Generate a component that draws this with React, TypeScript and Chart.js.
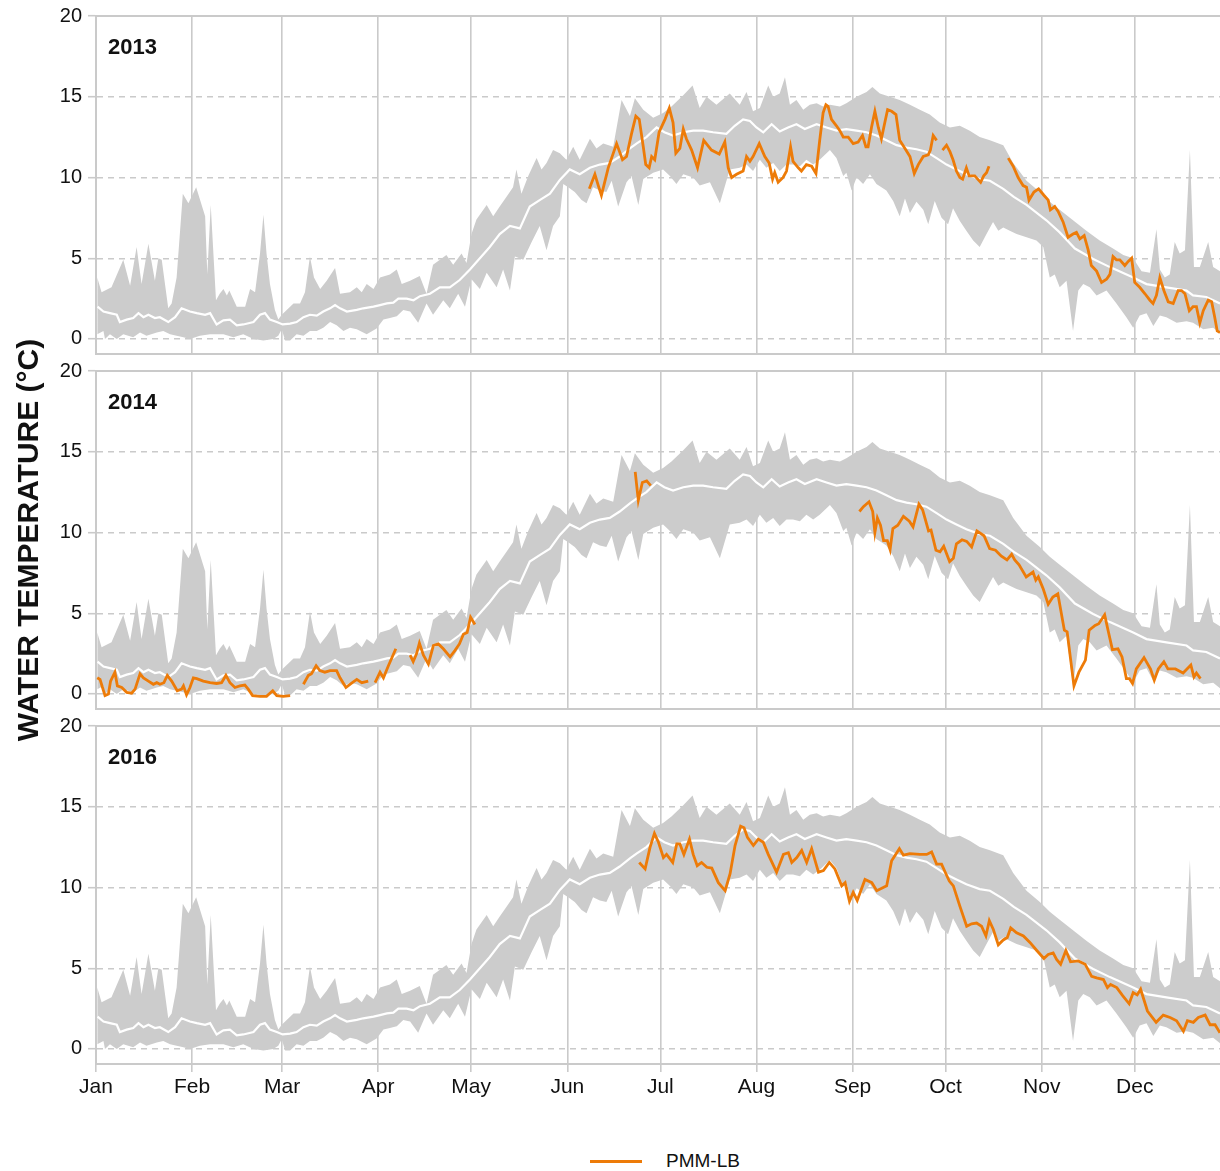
import React, { useEffect, useRef } from "react";
import { Chart, registerables } from "chart.js";

Chart.register(...registerables);

const FONT = "'Liberation Sans', Arial, Helvetica, sans-serif";
Chart.defaults.font.family = FONT;

// ---- axis data ----
const MONTH_DAYS = [0, 31, 60, 91, 121, 152, 182, 213, 244, 274, 305, 335];
const MONTH_LABELS = ["Jan", "Feb", "Mar", "Apr", "May", "Jun", "Jul", "Aug", "Sep", "Oct", "Nov", "Dec"];
const Y_TICKS = [0, 5, 10, 15, 20];
const Y_MIN = -0.93;
const Y_MAX = 20;
const X_MIN = 0;
const X_MAX = 362.5;
const YEARS = ["2013", "2014", "2016"];
const Y_TITLE = "WATER TEMPERATURE (°C)";
const LEGEND_LABEL = "PMM-LB";

// ---- climatology band: [day of year, °C] ----
const BAND_MAX: [number, number][] = [
  [0.4, 3.8], [1.8, 2.9], [5, 3.2], [8.8, 4.9], [11, 3.3], [13.1, 5.7], [14.7, 3.4], [16.9, 5.9], [19, 3.6],
  [20.1, 5.0], [21.2, 4.9], [23.3, 1.9], [24.4, 2.2], [26, 3.8], [28, 9.0], [29.8, 8.4], [32.3, 9.4], [35.2, 7.6],
  [35.9, 4.0], [37, 8.3], [38.7, 2.4], [39.9, 2.8], [41.1, 3.1], [42.2, 2.7], [43, 3.0], [45.4, 2.0], [48.1, 2.0],
  [49.7, 3.1], [51.3, 2.9], [52.9, 5.3], [54, 7.7], [55, 5.3], [56.1, 3.4], [57.7, 1.8], [58.8, 1.2], [59.9, 1.5],
  [61.5, 1.8], [63.7, 2.2], [65.8, 2.2], [67.4, 2.9], [69, 5.1], [70.3, 3.8], [72.3, 3.1], [74.4, 3.6], [77.1, 4.4],
  [78.7, 2.8], [81.9, 2.9], [84.1, 3.2], [85.7, 2.9], [87.3, 3.4], [89.5, 3.1], [91.6, 3.8], [94.8, 4.0], [97, 4.3],
  [98.6, 3.4], [101.3, 3.6], [104.4, 3.9], [106.6, 2.8], [108.7, 4.6], [113, 5.2], [115.2, 4.6], [117.9, 5.3],
  [119.5, 4.7], [121.1, 6.5], [122.7, 7.4], [126, 8.3], [128.1, 7.6], [130.2, 8.2], [132.4, 8.8], [134.5, 9.4],
  [135.6, 10.5], [137.2, 9.0], [139.4, 10.1], [142.1, 11.2], [143.7, 10.5], [145.3, 10.9], [147.4, 11.7],
  [149.6, 11.5], [151.7, 11.1], [153.9, 11.9], [156, 11.1], [159.3, 12.4], [161.4, 11.8], [163.6, 12.1],
  [166.8, 11.9], [169.5, 14.8], [172.2, 13.8], [173.8, 14.9], [176.5, 14.2], [179.7, 13.7], [182.9, 14.0],
  [185.6, 14.4], [189.4, 15.1], [192.4, 15.7], [194.7, 14.3], [196.9, 15.0], [200.1, 14.5], [204.4, 15.2],
  [207.6, 14.5], [209.8, 15.3], [211.9, 14.1], [214.1, 14.3], [216.8, 15.7], [218.4, 15.0], [220.5, 15.2],
  [222.2, 16.2], [223.8, 14.5], [225.9, 14.8], [228.1, 14.2], [230.2, 14.5], [232.4, 14.6], [234.5, 14.4],
  [236.7, 14.5], [239.9, 14.4], [242, 14.6], [245.3, 15.0], [248.5, 15.3], [250.4, 15.6], [252.8, 15.2],
  [256, 15.0], [259.2, 14.8], [262.5, 14.5], [265.7, 14.2], [268.9, 13.9], [272.1, 13.4], [275.4, 13.1],
  [278.6, 13.2], [281.8, 12.9], [285, 12.5], [288.3, 12.3], [292.6, 12.0], [295.8, 10.9], [300.1, 9.8],
  [304.4, 9.1], [307.6, 8.5], [310.8, 8.0], [315.1, 7.35], [319.4, 6.7], [323.7, 6.1], [328, 5.6], [331.3, 5.2],
  [334.5, 5.0], [337.2, 4.2], [339.9, 4.1], [342, 6.8], [343.1, 4.3], [344.7, 3.8], [346.3, 4.0], [347.9, 6.0],
  [349.5, 5.3], [351.2, 5.5], [352.8, 11.7], [354.1, 4.45], [356, 4.45], [358.7, 6.0], [360.3, 4.45], [362.5, 4.2],
];

const BAND_MIN: [number, number][] = [
  [0.4, 0.3], [2.4, 0.5], [2.9, 0.0], [4.5, 0.3], [6.7, 0.0], [8.8, 0.3], [12, 0.1], [14.2, 0.4], [16.3, 0.2],
  [19.6, 0.4], [21.7, 0.5], [23.9, 0.3], [26, 0.2], [28.2, 0.1], [30.3, 0.0], [33.5, 0.2], [36.8, 0.3], [41.1, 0.3],
  [44.3, 0.1], [47.5, 0.3], [50.8, 0.0], [54, -0.1], [57.2, 0.0], [58.8, 0.2], [59.9, 0.6], [61, -0.1], [62.6, -0.1],
  [64.7, 0.3], [66.9, 0.2], [69, 0.5], [71.2, 0.5], [73.3, 0.7], [75.5, 1.05], [77.6, 0.85], [79.8, 0.5], [81.9, 0.7],
  [84.1, 0.6], [87.3, 0.3], [90.5, 0.65], [92.7, 1.2], [94.8, 1.3], [97, 1.4], [99.1, 1.8], [101.3, 1.7],
  [103.9, 1.0], [106.6, 2.2], [108.7, 1.5], [112, 2.4], [114.1, 1.9], [116.8, 2.8], [119, 2.0], [121.1, 3.7],
  [123.8, 3.1], [126, 4.1], [129.2, 3.2], [131.3, 4.3], [133.5, 3.0], [135.1, 5.1], [137.8, 4.9], [140.5, 6.0],
  [143.1, 7.0], [145.3, 5.5], [147.4, 7.0], [149.6, 7.6], [150.7, 9.6], [152.3, 9.4], [154.4, 9.1], [156.6, 8.6],
  [158.2, 8.4], [160.3, 9.4], [162.5, 9.2], [164.6, 9.1], [166.3, 9.8], [168.4, 8.2], [171.1, 9.7], [172.7, 10.1],
  [174.9, 8.3], [176.5, 9.9], [179.7, 10.3], [182.9, 10.5], [185.1, 10.1], [187.2, 9.6], [189.4, 10.2],
  [192.6, 10.0], [194.7, 9.5], [198, 9.7], [201.2, 8.4], [204.4, 10.5], [207.6, 10.6], [209.8, 10.8],
  [211.9, 10.4], [214.1, 11.1], [216.2, 10.6], [218.4, 10.9], [220.5, 10.4], [222.7, 10.8], [224.8, 10.8],
  [227, 10.7], [229.1, 11.1], [231.3, 10.8], [233.4, 11.1], [236.7, 11.7], [238.8, 11.2], [241, 10.1], [242, 10.3],
  [243.7, 9.2], [245.3, 10.0], [247.4, 9.6], [249.6, 10.2], [251.7, 9.6], [254.9, 9.2], [257.1, 8.55], [259.2, 7.6],
  [260.9, 8.7], [262.5, 7.8], [264.6, 8.5], [266.8, 8.0], [268.4, 7.1], [270.5, 8.55], [272.7, 7.5], [274.8, 7.1],
  [276.4, 8.1], [278.6, 7.3], [280.7, 6.7], [282.9, 6.1], [285, 5.7], [287.2, 6.5], [289.3, 7.25], [291, 6.7],
  [292.6, 6.9], [294.7, 6.7], [296.9, 6.5], [300.1, 6.3], [303.3, 6.1], [305.5, 5.7], [307.6, 3.8], [309.2, 4.0],
  [310.8, 3.2], [313, 3.6], [315.1, 0.5], [316.8, 3.0], [318.4, 3.4], [320.5, 3.2], [322.7, 2.7], [325.9, 3.0],
  [329.1, 2.2], [332.3, 1.35], [334.5, 0.7], [336.6, 1.45], [338.8, 1.6], [341, 0.8], [343.1, 1.45], [345.2, 1.35],
  [348.5, 1.0], [351.7, 1.1], [353.8, 1.0], [357.1, 0.6], [360.3, 0.7], [362.5, 0.35],
];

const MEDIAN: [number, number][] = [
  [0.5, 2.0], [2.4, 1.7], [4.5, 1.6], [6.7, 1.5], [7.7, 1.05], [9.9, 1.2], [12, 1.3], [13.7, 1.6], [15.3, 1.35],
  [16.9, 1.5], [19, 1.3], [20.6, 1.35], [23.3, 1.05], [25.5, 1.35], [27.6, 1.9], [30.3, 1.7], [32.5, 1.6],
  [35.2, 1.5], [36.8, 1.6], [38.9, 0.9], [41.1, 1.15], [43.2, 1.2], [45.4, 0.85], [47.5, 0.9], [50.8, 1.05],
  [52.9, 1.5], [54.5, 1.6], [56.1, 1.2], [58.3, 1.05], [60.2, 0.9], [62.6, 0.95], [64.7, 1.05], [66.9, 1.35],
  [69, 1.5], [71.2, 1.45], [73.3, 1.7], [75.5, 1.9], [77.1, 2.1], [78.7, 1.9], [80.9, 1.7], [84.1, 1.8], [86.2, 1.9],
  [89.5, 2.0], [91.6, 2.1], [93.8, 2.2], [95.9, 2.25], [97.5, 2.5], [100.2, 2.5], [102.4, 2.4], [104.5, 2.65],
  [107.7, 2.8], [110.9, 3.2], [114.1, 3.2], [117.3, 3.65], [120.6, 4.3], [123.8, 5.0], [127, 5.7], [130.2, 6.5],
  [133.5, 7.0], [136.7, 6.85], [139.9, 8.2], [143.1, 8.6], [146.4, 9.0], [149.6, 9.85], [152.8, 10.5], [156, 10.2],
  [159.3, 10.6], [162.5, 10.8], [165.7, 10.9], [168.9, 11.3], [172.2, 11.8], [174.3, 12.1], [177.5, 12.5],
  [180.8, 13.1], [183.3, 12.8], [186.1, 12.6], [189.4, 12.8], [192.6, 12.9], [195.8, 12.9], [199, 12.8],
  [203.3, 12.7], [206, 13.2], [208.7, 13.6], [210.9, 13.5], [213, 13.1], [215.2, 12.8], [217.9, 13.3],
  [220.5, 12.85], [223.2, 13.1], [225.9, 13.3], [228.6, 13.0], [232.4, 13.3], [235.6, 13.1], [238.8, 12.9],
  [242, 13.0], [245.3, 12.9], [248.5, 12.8], [251.7, 12.6], [254.9, 12.3], [258.2, 12.0], [261.4, 11.85],
  [264.6, 11.75], [267.8, 11.6], [271.1, 11.2], [274.3, 10.8], [277.5, 10.5], [280.7, 10.2], [285, 9.9],
  [288.3, 9.8], [292.6, 9.3], [296, 8.8], [300.1, 8.3], [306.5, 7.35], [310.8, 6.6], [315.7, 5.6], [321.6, 4.95],
  [327, 4.45], [334.5, 3.8], [338.8, 3.4], [345.2, 3.2], [351.7, 3.0], [353.8, 2.7], [358.1, 2.6], [362.5, 2.2],
];

// ---- PMM-LB observations: [day of year, °C]; null = gap ----
const PMM_2013: [number, number | null][] = [
  [159.1, 9.3], [160.9, 10.2], [162, 9.5], [163, 8.9], [165.2, 10.6], [167.9, 12.1], [169.8, 11.1], [171.1, 11.3],
  [172.7, 12.7], [174.1, 13.8], [175.2, 13.6], [176.5, 11.9], [177.3, 10.8], [178.4, 10.6], [179.2, 11.3],
  [180.2, 11.1], [181.6, 12.8], [183.5, 13.6], [184.9, 14.3], [186.1, 13.4], [187, 11.5], [188.3, 11.8],
  [189.4, 13.0], [190.4, 12.4], [192.1, 11.7], [194, 10.6], [196, 12.3], [198.5, 11.7], [201, 11.45], [202.8, 12.2],
  [203.9, 10.6], [205, 10.0], [206.6, 10.2], [208.7, 10.4], [209.8, 11.3], [210.9, 11.0], [211.9, 11.3],
  [213.9, 12.1], [215.7, 11.3], [217.1, 10.9], [218.2, 9.9], [218.9, 10.3], [220, 9.7], [221.6, 10.0],
  [222.7, 10.4], [224, 11.9], [224.8, 11.0], [226.5, 10.6], [227.5, 10.4], [229.1, 10.8], [230.8, 10.7],
  [232.2, 10.25], [233.4, 12.3], [234.5, 14.0], [235.4, 14.5], [236.1, 14.4], [237.2, 13.6], [238.8, 13.2],
  [239.9, 12.9], [241, 12.5], [242.6, 12.5], [244.2, 12.1], [245.8, 12.2], [247.2, 12.6], [248.3, 11.9],
  [249, 11.9], [250.1, 13.1], [251.2, 14.1], [252.3, 13.1], [253.3, 12.4], [254.4, 13.4], [255.3, 14.2],
  [256.6, 14.1], [258, 13.9], [259.2, 12.3], [260.9, 11.8], [262.5, 11.3], [263.9, 10.25], [265.2, 10.8],
  [266.8, 11.3], [268.4, 11.4], [269.1, 11.7], [270, 12.6], [271.1, 12.3], [272, null], [273, 11.7], [274.3, 12.0],
  [275.4, 11.6], [276.4, 11.1], [277.5, 10.4], [278.6, 10.0], [279.5, 9.9], [280.7, 10.6], [281.6, 10.1],
  [283.4, 10.1], [285.3, 9.7], [286.3, 10.1], [287.2, 10.3], [288, 10.7], [291, null], [294.2, 11.2],
  [295.8, 10.7], [297.4, 10.0], [299, 9.5], [300.1, 9.4], [300.9, 8.6], [302.5, 9.1], [304, 9.3], [305.7, 8.9],
  [307.1, 8.6], [307.8, 8.0], [309.2, 8.2], [310.3, 7.9], [311.9, 7.25], [313.5, 6.3], [315.1, 6.5], [316.2, 6.6],
  [317.3, 6.2], [318.7, 6.4], [320, 5.5], [321, 4.55], [322.7, 4.2], [324.3, 3.5], [325.9, 3.7], [327, 4.0],
  [328, 5.1], [329.1, 4.9], [330.2, 4.9], [331.8, 4.55], [332.9, 4.8], [334, 5.0], [335, 3.5], [336.6, 3.2],
  [338.3, 2.8], [339.9, 2.4], [340.9, 2.2], [342, 2.7], [343.1, 3.8], [344.4, 3.0], [345.8, 2.3], [347.4, 2.2],
  [349, 3.0], [350.1, 3.0], [351.2, 2.8], [352.6, 1.75], [353.8, 2.0], [354.9, 2.0], [356, 1.0], [357.1, 1.75],
  [358.7, 2.4], [359.8, 2.3], [360.8, 1.35], [361.6, 0.5], [362.5, 0.4],
];

const PMM_2014: [number, number | null][] = [
  [0.4, 1.0], [1.3, 0.9], [2.1, 0.4], [2.9, -0.1], [4, 0.0], [4.7, 0.8], [6.1, 1.35], [6.9, 0.5], [8.3, 0.4],
  [9.9, 0.1], [11.5, 0.05], [12.6, 0.3], [14.2, 1.25], [15.3, 1.0], [16.9, 0.8], [18.5, 0.6], [19.6, 0.7],
  [20.6, 0.6], [21.9, 0.7], [23, 1.15], [24.4, 0.8], [26.2, 0.2], [27.6, 0.3], [28.2, 0.5], [29.2, -0.05],
  [30.3, 0.4], [31.4, 1.0], [32.5, 0.95], [34.6, 0.8], [36.8, 0.7], [38.9, 0.65], [40.5, 0.7], [41.9, 1.15],
  [43.2, 0.7], [44.8, 0.4], [46.4, 0.5], [48, 0.55], [49.1, 0.3], [50.5, -0.1], [52.9, -0.15], [55, -0.15],
  [57, 0.2], [58.3, -0.1], [60.4, -0.15], [62.6, -0.1], [64.5, null], [66.9, 0.6], [68.5, 1.15], [69.5, 1.25],
  [71, 1.75], [72.2, 1.45], [73.8, 1.35], [75.5, 1.45], [77.6, 1.45], [78.7, 1.0], [80.6, 0.4], [81.9, 0.6],
  [84.1, 0.9], [85.7, 0.7], [87.8, 0.8], [88.9, null], [90, 0.7], [91.6, 1.35], [92.7, 1.0], [94.3, 1.75],
  [96.7, 2.8], [99, null], [101.3, 2.4], [102.3, 2.0], [103.4, 2.5], [104.3, 3.15], [105.6, 2.4], [107.2, 1.85],
  [108.8, 3.0], [110.4, 3.1], [112, 2.8], [114.2, 2.3], [115.8, 2.7], [117.2, 3.1], [118.5, 3.7], [119.7, 3.8],
  [120.8, 4.75], [122.2, 4.3], [150, null], [173.9, 13.75], [174.9, 12.0], [176.2, 13.1], [177.6, 13.2],
  [178.9, 12.9], [200, null], [246.2, 11.3], [247.5, 11.6], [249.3, 11.9], [250.5, 11.3], [251.2, 10.0],
  [252, 10.9], [253, 10.45], [254, 9.5], [255.2, 9.5], [256.1, 8.95], [257, 10.25], [258.6, 10.45], [260.4, 11.0],
  [262.3, 10.7], [263.5, 10.35], [265.4, 11.75], [266.6, 11.4], [268.5, 10.1], [269.3, 10.15], [270.9, 8.9],
  [272.2, 8.8], [273.4, 9.15], [275.3, 8.2], [276.5, 8.4], [277.5, 9.3], [279.3, 9.55], [280.8, 9.45],
  [282.4, 9.1], [284.1, 10.1], [286.4, 9.8], [288.2, 9.0], [290.1, 8.9], [291.9, 8.55], [293.8, 8.3],
  [295.3, 8.65], [296.3, 8.3], [297.7, 8.0], [300, 7.25], [302.2, 7.55], [303.1, 7.05], [303.9, 7.25],
  [305.5, 6.5], [307.1, 5.55], [308.6, 6.0], [310.2, 6.2], [312.3, 3.95], [313.2, 3.85], [315.4, 0.5],
  [317, 1.35], [319.1, 2.1], [320.3, 3.95], [322.2, 4.25], [323.4, 4.35], [325.3, 4.9], [326.5, 3.85],
  [327.8, 2.75], [329.6, 2.8], [330.9, 2.3], [332.3, 0.95], [333.3, 0.95], [334.3, 0.65], [335.5, 1.55],
  [338, 2.25], [340.1, 1.55], [341.3, 0.85], [342.6, 1.55], [344.4, 2.0], [345.7, 1.55], [348.1, 1.55],
  [350.6, 1.3], [353.1, 1.8], [354.1, 1.05], [354.9, 1.3], [356.2, 0.95],
];

const PMM_2016: [number, number | null][] = [
  [175.2, 11.55], [177.1, 11.15], [178.7, 12.5], [180.1, 13.35], [181.4, 12.8], [183, 11.85], [184, 12.05],
  [186, 11.55], [187.3, 12.7], [188.3, 12.7], [189.6, 12.05], [191.4, 13.0], [192.6, 12.05], [193.9, 11.35],
  [195.3, 11.55], [197, 11.25], [198.6, 11.2], [200.7, 10.3], [202.9, 9.8], [204.5, 10.85], [206.1, 12.6],
  [207.9, 13.8], [209, 13.7], [210.1, 13.1], [212, 12.6], [213.6, 13.0], [215.2, 12.8], [216.8, 12.05],
  [219.5, 10.95], [221.7, 12.05], [223.3, 12.15], [224.4, 11.55], [226, 11.85], [227.6, 12.3], [229.2, 11.55],
  [230.8, 12.4], [233, 10.95], [234.6, 11.05], [236.5, 11.55], [238.3, 11.15], [240.5, 10.1], [241.6, 10.3],
  [243, 9.15], [244.2, 9.7], [245.5, 9.2], [248, 10.5], [250.2, 10.3], [251.8, 9.8], [253.9, 10.0], [255, 10.1],
  [256.6, 11.65], [259.1, 12.4], [260.4, 12.0], [262.5, 12.1], [265.7, 12.05], [267.9, 12.05], [269.5, 12.2],
  [271.1, 11.45], [272.7, 11.45], [274.1, 10.85], [275.2, 10.4], [276.5, 10.1], [278.6, 8.85], [280.8, 7.6],
  [282.4, 7.75], [284, 7.8], [285.6, 7.6], [287, 7.0], [288.1, 7.95], [289.4, 7.4], [291, 6.45], [292.6, 6.75],
  [293.9, 6.9], [295, 7.5], [296.9, 7.2], [299.1, 7.0], [301.2, 6.6], [303.4, 6.1], [305.7, 5.6], [307.1, 5.85],
  [308.7, 5.95], [309.8, 5.55], [311.1, 5.25], [312.8, 6.1], [314.3, 5.4], [316.8, 5.45], [319, 5.25],
  [321.1, 4.5], [322.7, 4.4], [324.9, 4.3], [326.2, 3.8], [327.2, 4.0], [329.2, 3.8], [331.1, 3.3], [333.2, 2.8],
  [334.5, 3.5], [335.8, 3.35], [336.9, 3.7], [339.1, 2.35], [341.9, 1.65], [344.2, 2.1], [346.4, 1.95],
  [348.5, 1.75], [350.7, 1.1], [352, 1.75], [353.9, 1.65], [355.5, 1.95], [357.7, 2.1], [359.3, 1.5],
  [360.9, 1.5], [362.5, 1.0],
];

const SERIES = [PMM_2013, PMM_2014, PMM_2016];

// ---- styling ----
const GRID = "#cacaca";
const BAND_COLOR = "#cccccc";
const ORANGE = "#ed7b08";
const TEXT = "#111111";
const W = 1220;
const PANEL_PITCH = 355;
const AREA_TOP = 16;
const AREA_BOTTOM = 354;

const toPts = (arr: [number, number | null][]) => arr.map(([x, y]) => ({ x, y }));

const panelLabelPlugin = (text: string) => ({
  id: "panelLabel",
  afterDraw(chart: any) {
    const { ctx, chartArea } = chart;
    ctx.save();
    ctx.font = `bold 22px ${FONT}`;
    ctx.fillStyle = TEXT;
    ctx.textBaseline = "middle";
    ctx.textAlign = "left";
    ctx.fillText(text, chartArea.left + 12, chartArea.top + 32);
    ctx.restore();
  },
});

function Panel({ index, height }: { index: number; height: number }) {
  const ref = useRef<HTMLCanvasElement | null>(null);
  const showX = index === 2;

  useEffect(() => {
    if (!ref.current) return;
    const chart = new Chart(ref.current, {
      type: "line",
      data: {
        datasets: [
          {
            label: LEGEND_LABEL,
            data: toPts(SERIES[index]),
            borderColor: ORANGE,
            borderWidth: 2.8,
            pointRadius: 0,
            spanGaps: false,
            fill: false,
            tension: 0,
          },
          {
            label: "median",
            data: toPts(MEDIAN),
            borderColor: "#ffffff",
            borderWidth: 2.2,
            pointRadius: 0,
            fill: false,
            tension: 0,
          },
          {
            label: "min",
            data: toPts(BAND_MIN),
            borderColor: "rgba(0,0,0,0)",
            borderWidth: 0,
            backgroundColor: BAND_COLOR,
            pointRadius: 0,
            fill: "+1",
            tension: 0,
          },
          {
            label: "max",
            data: toPts(BAND_MAX),
            borderColor: "rgba(0,0,0,0)",
            borderWidth: 0,
            pointRadius: 0,
            fill: false,
            tension: 0,
          },
        ],
      },
      options: {
        responsive: false,
        animation: false,
        events: [],
        layout: { padding: { top: AREA_TOP, left: 0, right: 0, bottom: 0 } },
        plugins: {
          legend: { display: false },
          tooltip: { enabled: false },
        },
        scales: {
          x: {
            type: "linear",
            min: X_MIN,
            max: X_MAX,
            afterBuildTicks: (s: any) => {
              s.ticks = MONTH_DAYS.map((v) => ({ value: v }));
            },
            afterFit: (s: any) => {
              s.height = showX ? height - AREA_BOTTOM : 1;
              s.paddingLeft = 0;
              s.paddingRight = 0;
            },
            ticks: {
              display: showX,
              autoSkip: false,
              maxRotation: 0,
              padding: 3,
              color: TEXT,
              font: { size: 21 },
              callback: (v: any) => {
                const i = MONTH_DAYS.indexOf(Number(v));
                return i >= 0 ? MONTH_LABELS[i] : "";
              },
            },
            grid: {
              color: GRID,
              lineWidth: 1.6,
              drawTicks: showX,
              tickLength: 8,
              tickColor: GRID,
              tickWidth: 1.6,
            },
            border: { display: true, color: GRID, width: 2 },
          },
          xTop: {
            type: "linear",
            axis: "x",
            position: "top",
            min: X_MIN,
            max: X_MAX,
            ticks: { display: false },
            grid: { display: false, drawTicks: false },
            border: { display: true, color: GRID, width: 2 },
            afterFit: (s: any) => {
              s.height = 0;
              s.paddingLeft = 0;
              s.paddingRight = 0;
            },
          },
          y: {
            type: "linear",
            min: Y_MIN,
            max: Y_MAX,
            afterBuildTicks: (s: any) => {
              s.ticks = Y_TICKS.map((v) => ({ value: v }));
            },
            afterFit: (s: any) => {
              s.width = 96;
              s.paddingTop = 0;
              s.paddingBottom = 0;
            },
            ticks: {
              padding: 6,
              color: TEXT,
              font: { size: 20 },
            },
            grid: {
              color: (ctx: any) => (ctx.tick && ctx.tick.value === Y_MAX ? "rgba(0,0,0,0)" : GRID),
              lineWidth: 1.4,
              tickLength: 8,
              tickColor: GRID,
              tickWidth: 1.6,
              tickBorderDash: [],
            },
            border: { display: true, color: GRID, width: 2, dash: [6, 5] },
          },
        },
      } as any,
      plugins: [panelLabelPlugin(YEARS[index])],
    });
    return () => chart.destroy();
  }, [index, height, showX]);

  return (
    <canvas
      ref={ref}
      width={W}
      height={height}
      style={{ position: "absolute", left: 0, top: index * PANEL_PITCH, display: "block" }}
    />
  );
}

export default function App() {
  return (
    <div style={{ position: "absolute", left: 0, top: 0, width: W, height: 1171, background: "#fff", fontFamily: FONT }}>
      <Panel index={0} height={PANEL_PITCH} />
      <Panel index={1} height={PANEL_PITCH} />
      <Panel index={2} height={400} />
      <div
        style={{
          position: "absolute",
          left: 28 - 260,
          top: 540 - 20,
          width: 520,
          height: 40,
          lineHeight: "40px",
          textAlign: "center",
          transform: "rotate(-90deg)",
          fontSize: 30,
          fontWeight: "bold",
          color: TEXT,
          whiteSpace: "nowrap",
        }}
      >
        {Y_TITLE}
      </div>
      <div
        style={{
          position: "absolute",
          left: 590,
          top: 1150,
          height: 22,
          display: "flex",
          alignItems: "center",
        }}
      >
        <span style={{ display: "inline-block", width: 52, height: 3, background: ORANGE, marginRight: 24 }} />
        <span style={{ fontSize: 19, color: TEXT, lineHeight: "22px" }}>{LEGEND_LABEL}</span>
      </div>
    </div>
  );
}
